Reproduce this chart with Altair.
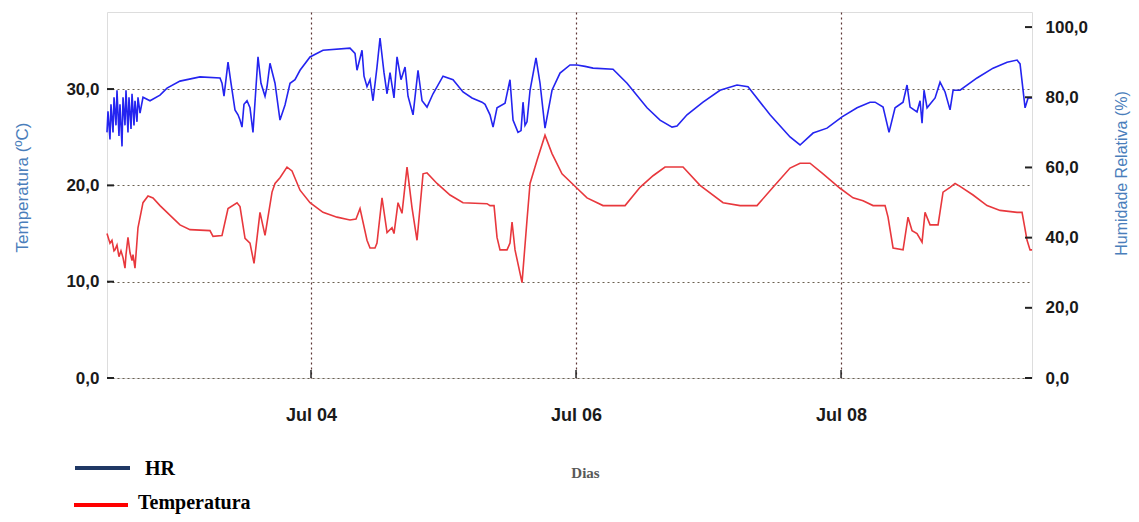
import altair as alt
import pandas as pd

# Hours measured from 2013-07-04 00:00
hr_hours = [-36.95, -36.77, -36.41, -36.23, -35.86, -35.68, -35.32, -35.14, -34.78, -34.60,
            -34.23, -34.05, -33.69, -33.51, -33.15, -32.97, -32.60, -32.42, -32.06, -31.88,
            -31.52, -31.34, -30.97, -30.43, -29.16, -27.35, -26.08, -23.73, -20.11, -16.48,
            -16.12, -15.76, -15.03, -14.49, -13.77, -13.22, -12.86, -12.50, -12.14, -11.59,
            -11.05, -10.51, -9.96, -9.60, -9.06, -8.33, -7.97, -7.43, -6.52, -5.62,
            -4.71, -3.80, -2.90, -1.99, -0.18, 2.17, 7.06, 7.97, 8.33, 9.24,
            9.60, 10.14, 10.69, 11.23, 11.95, 12.50, 13.22, 13.77, 14.31, 15.03,
            15.58, 16.30, 17.03, 17.57, 18.48, 19.38, 20.11, 21.01, 22.10, 23.91,
            25.72, 27.53, 29.16, 30.97, 31.52, 32.42, 32.97, 33.69, 35.14, 36.04,
            36.59, 37.49, 38.04, 38.40, 38.76, 39.12, 39.67, 40.75, 41.48, 42.38,
            43.65, 45.10, 46.91, 48.18, 49.63, 51.08, 54.70, 57.24, 60.86, 63.21,
            65.39, 66.29, 68.10, 71.00, 74.08, 77.16, 79.15, 83.14, 86.76, 88.57,
            90.93, 93.46, 96.18, 98.90, 101.25, 102.16, 103.61, 104.69, 105.78, 107.23,
            107.95, 108.50, 109.76, 110.31, 110.67, 111.03, 111.58, 113.03, 113.93, 114.84,
            115.74, 116.29, 117.55, 120.63, 123.53, 126.07, 127.88, 128.42, 129.33, 129.87,
            130.59]
hr_values = [70, 76, 68, 78, 70, 80, 72, 82, 69, 78,
             66, 80, 72, 82, 70, 80, 71, 81, 72, 79,
             73, 80, 75.5, 80, 79, 80.6, 82.6, 84.6, 85.8, 85.5,
             84, 80.3, 90, 84, 76.4, 75, 73.5, 71.5, 78, 79,
             77, 70, 83, 91.5, 84, 80.3, 83, 89.7, 84, 73.5,
             77.8, 84, 85, 87.7, 91.5, 93.4, 94, 92.5, 87.7, 93.4,
             86, 83, 85, 79, 88.6, 96.9, 87, 81, 87, 79.8,
             91.5, 85, 88.6, 80.3, 75, 87.7, 79, 77.2, 81, 86,
             85, 81.5, 79.8, 78.6, 78, 75, 71.5, 77, 78.3, 85,
             73.5, 70, 70.5, 78.6, 72, 73, 82, 91.2, 84, 71.2,
             82, 86.9, 89.2, 89.2, 88.8, 88.3, 88, 84, 77, 73.5,
             71.5, 71.8, 75, 78.6, 82, 83.5, 83, 75, 68.7, 66.4,
             69.8, 71.2, 74.4, 77, 78.6, 78.6, 77.2, 70, 77, 78.6,
             83.5, 77.2, 75.8, 79, 72.6, 82, 77, 79.8, 84.3, 81.5,
             76.4, 82, 82, 85.5, 88.3, 90, 90.6, 89.5, 77, 79.8,
             79.8]

temp_hours = [-36.95, -36.41, -36.05, -35.68, -35.50, -35.14, -34.78, -34.42, -34.05, -33.69,
              -33.51, -33.15, -32.78, -32.42, -32.24, -31.88, -31.34, -30.43, -29.52, -28.62,
              -27.35, -26.08, -25.00, -23.73, -21.92, -18.30, -17.75, -16.12, -15.03, -13.40,
              -12.86, -11.95, -11.05, -10.32, -9.24, -8.33, -7.06, -6.52, -5.62, -4.35,
              -3.44, -1.99, -0.18, 2.17, 4.71, 7.06, 8.15, 8.88, 10.14, 10.69,
              11.59, 11.95, 12.86, 13.77, 14.67, 15.03, 15.76, 16.48, 17.39, 18.29,
              19.20, 20.29, 21.01, 22.82, 25.18, 27.53, 31.88, 32.42, 33.15, 33.69,
              34.23, 35.50, 36.04, 36.41, 36.95, 38.22, 39.12, 39.67, 40.94, 42.38,
              43.65, 45.46, 48.18, 49.99, 52.89, 56.88, 59.59, 61.95, 64.12, 67.38,
              70.46, 74.63, 77.71, 80.78, 83.68, 86.76, 88.57, 90.38, 92.74, 95.82,
              98.17, 99.98, 101.80, 103.97, 104.51, 105.42, 107.23, 108.13, 108.86, 109.76,
              110.67, 111.21, 112.12, 113.57, 114.47, 115.74, 116.65, 117.55, 119.91, 122.44,
              124.80, 127.88, 128.78, 129.69, 130.23, 130.59]
temp_values = [15.0, 14.0, 14.3, 13.2, 13.3, 13.8, 12.6, 13.2, 12.5, 11.4,
               12.8, 14.6, 13.0, 12.2, 12.8, 11.4, 15.6, 18.2, 18.9, 18.7,
               17.9, 17.2, 16.6, 15.9, 15.4, 15.3, 14.7, 14.8, 17.6, 18.2,
               17.8, 14.5, 14.0, 11.9, 17.2, 14.8, 19.3, 20.2, 20.8, 21.9,
               21.5, 19.5, 18.2, 17.2, 16.7, 16.4, 16.5, 17.6, 14.3, 13.5,
               13.5, 14.0, 18.7, 15.1, 15.6, 15.0, 18.2, 17.1, 21.9, 17.7,
               14.3, 21.2, 21.3, 20.2, 19.0, 18.2, 18.1, 17.9, 17.9, 14.6,
               13.3, 13.3, 14.0, 16.2, 13.3, 9.9, 16.4, 20.2, 22.6, 25.2,
               23.3, 21.2, 19.7, 18.7, 17.9, 17.9, 19.8, 21.0, 21.9, 21.9,
               20.0, 18.2, 17.9, 17.9, 19.8, 21.8, 22.3, 22.3, 21.2, 19.7,
               18.7, 18.4, 17.9, 17.9, 16.7, 13.5, 13.3, 16.7, 15.3, 15.0,
               14.1, 17.2, 15.9, 15.9, 19.3, 19.8, 20.2, 19.9, 19.0, 17.9,
               17.4, 17.2, 17.2, 14.3, 13.3, 13.3]

temp_ticks = [0, 10, 20, 30]
hr_ticks = [0, 20, 40, 60, 80, 100]
date_tick_days = [4, 6, 8]
legend_labels = ["HR", "Temperatura"]
legend_colors = ["#1f3864", "#ff0000"]

base = pd.Timestamp("2013-07-04 00:00")
hr_df = pd.DataFrame({"t": base + pd.to_timedelta(hr_hours, unit="h"), "H": hr_values})
temp_df = pd.DataFrame({"t": base + pd.to_timedelta(temp_hours, unit="h"), "T": temp_values})
date_df = pd.DataFrame({"d": [pd.Timestamp(2013, 7, d) for d in date_tick_days]})

W, H = 925, 366
x_scale = alt.Scale(domain=[alt.DateTime(year=2013, month=7, date=2, hours=11, minutes=3),
                            alt.DateTime(year=2013, month=7, date=9, hours=10, minutes=35)],
                    nice=False)
temp_scale = alt.Scale(domain=[0, 38], nice=False, zero=False)
hr_scale = alt.Scale(domain=[0, 104.3], nice=False, zero=False)

num_expr = "replace(format(datum.value, '.1f'), '.', ',')"
label_font = "Liberation Sans, Arial, sans-serif"
title_color = "#4a7ebb"

x_axis = alt.Axis(values=[alt.DateTime(year=2013, month=7, date=d) for d in date_tick_days],
                  format="%b %d", grid=True, gridColor="#5c3535", gridDash=[2, 3],
                  gridWidth=1.2, ticks=False, domain=False,
                  labelFont=label_font,
                  labelFontSize=18, labelFontWeight="bold", labelColor="#1a1a1a",
                  labelPadding=28,
                  title="Dias", titleFont="Liberation Serif, serif", titleFontWeight="bold",
                  titleFontSize=15, titleColor="#595959", titleX=478, titleY=94,
                  titleAlign="center", titleBaseline="middle")
x_enc = alt.X("t:T", scale=x_scale, axis=x_axis)

temp_line = alt.Chart(temp_df).mark_line(color="#e8383d", strokeWidth=1.6).encode(
    x=x_enc,
    y=alt.Y("T:Q", scale=temp_scale,
            axis=alt.Axis(orient="left", values=temp_ticks, labelExpr=num_expr,
                          grid=True, gridColor="#6a6050", gridDash=[2, 3], gridWidth=1.2,
                          ticks=False, domain=False, labelFont=label_font,
                          labelFontSize=17, labelFontWeight="bold", labelColor="#1a1a1a",
                          labelPadding=8,
                          title="Temperatura (ºC)", titleFont=label_font,
                          titleFontWeight="normal", titleFontSize=17, titleColor=title_color,
                          titleX=-85, titleY=175, titleAngle=270, titleAlign="center",
                          titleBaseline="middle"))
)

hr_line = alt.Chart(hr_df).mark_line(color="#2424f0", strokeWidth=1.6).encode(
    x=x_enc,
    y=alt.Y("H:Q", scale=hr_scale,
            axis=alt.Axis(orient="right", values=hr_ticks, labelExpr=num_expr,
                          grid=False, ticks=False, domain=False, labelFont=label_font,
                          labelFontSize=17, labelFontWeight="bold", labelColor="#1a1a1a",
                          labelPadding=13,
                          title="Humidade Relativa (%)", titleFont=label_font,
                          titleFontWeight="normal", titleFontSize=16, titleColor=title_color,
                          titleX=89, titleY=161, titleAngle=270, titleAlign="center",
                          titleBaseline="middle"))
)

left_ticks = alt.Chart(pd.DataFrame({"v": temp_ticks})).mark_rule(color="#222", strokeWidth=2).encode(
    y=alt.Y("v:Q", scale=temp_scale, axis=None), x=alt.value(0), x2=alt.value(7))
right_ticks = alt.Chart(pd.DataFrame({"v": hr_ticks})).mark_rule(color="#222", strokeWidth=2).encode(
    y=alt.Y("v:Q", scale=hr_scale, axis=None), x=alt.value(W - 7), x2=alt.value(W))
bottom_ticks = alt.Chart(date_df).mark_rule(color="#222", strokeWidth=1.5).encode(
    x=alt.X("d:T", scale=x_scale, axis=x_axis), y=alt.value(H - 8), y2=alt.value(H))

legend_layers = []
legend_line_pos = [(-32, 23, 456), (-33, 21, 493)]
legend_text_pos = [(38, 457), (31, 491)]
for i, (lab, col) in enumerate(zip(legend_labels, legend_colors)):
    src = pd.DataFrame({"label": [lab]})
    x1, x2, yy = legend_line_pos[i]
    legend_layers.append(
        alt.Chart(src).mark_rule(color=col, strokeWidth=4).encode(
            x=alt.value(x1), x2=alt.value(x2), y=alt.value(yy)))
    tx, ty = legend_text_pos[i]
    legend_layers.append(
        alt.Chart(src).mark_text(align="left", baseline="middle", font="Liberation Serif, serif",
                                 fontWeight="bold", fontSize=20, color="#000000").encode(
            x=alt.value(tx), y=alt.value(ty), text="label:N"))

chart = alt.layer(temp_line, hr_line, left_ticks, right_ticks, bottom_ticks, *legend_layers).resolve_scale(
    y="independent"
).properties(
    width=W, height=H,
    autosize=alt.AutoSizeParams(type="none"),
    padding={"left": 99, "top": 4, "right": 99, "bottom": 136},
).configure_view(
    stroke="#222", strokeWidth=1.5
).configure(background="white")

chart.save("out.html", embed_options={"renderer": "svg", "actions": False})
